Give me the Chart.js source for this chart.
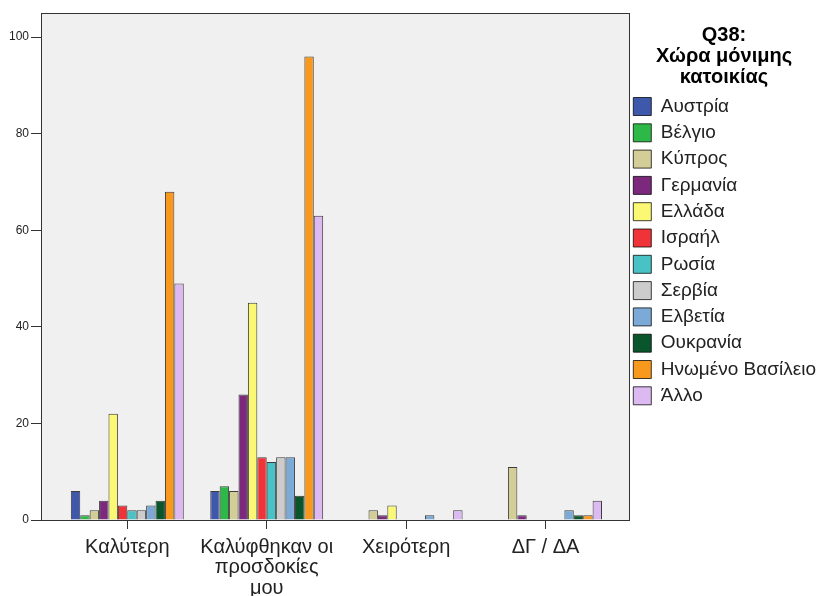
<!DOCTYPE html>
<html>
<head>
<meta charset="utf-8">
<script src="https://cdn.jsdelivr.net/npm/chart.js@4.4.1/dist/chart.umd.min.js"></script>
<style>
  html, body { margin: 0; padding: 0; background: #fff; }
  #wrap { width: 822px; height: 596px; }
</style>
</head>
<body>
<div id="wrap"><canvas id="chart"></canvas></div>
<script>
// --- DATA ---
const categories = ['Καλύτερη', ['Καλύφθηκαν οι', 'προσδοκίες', 'μου'], 'Χειρότερη', 'ΔΓ / ΔΑ'];
const countries = ['Αυστρία', 'Βέλγιο', 'Κύπρος', 'Γερμανία', 'Ελλάδα', 'Ισραήλ', 'Ρωσία', 'Σερβία', 'Ελβετία', 'Ουκρανία', 'Ηνωμένο Βασίλειο', 'Άλλο'];

const austria   = [6, 6, 0, 0];
const belgium   = [1, 7, 0, 0];
const cyprus    = [2, 6, 2, 11];
const germany   = [4, 26, 1, 1];
const greece    = [22, 45, 3, 0];
const israel    = [3, 13, 0, 0];
const russia    = [2, 12, 0, 0];
const serbia    = [2, 13, 0, 0];
const switzerland = [3, 13, 1, 2];
const ukraine   = [4, 5, 0, 1];
const uk        = [68, 96, 0, 1];
const other     = [49, 63, 2, 4];
const seriesValues = [austria, belgium, cyprus, germany, greece, israel, russia, serbia, switzerland, ukraine, uk, other];

const yTicks = [0, 20, 40, 60, 80, 100];

// SPSS default palette
const COLORS = ['#3E58AC', '#2EB848', '#D3CE97', '#7C287D', '#FBF873', '#EF3338',
                '#48C2C5', '#CCCCCC', '#7AAAD5', '#0A562C', '#F8981D', '#DDB9F1'];

const TEXT_COLOR = '#222';
const FRAME_EXTRA = 4; // frame runs a few px past the chart area on the right

Chart.defaults.font.family = '"Liberation Sans", Arial, sans-serif';
Chart.defaults.color = TEXT_COLOR;

// grey plot background + frame
const plotFrame = {
  id: 'plotFrame',
  beforeDraw(chart) {
    const { ctx, chartArea: a } = chart;
    ctx.save();
    ctx.fillStyle = '#F0F0F0';
    ctx.fillRect(a.left, a.top, a.right + FRAME_EXTRA - a.left, a.bottom - a.top);
    ctx.restore();
  },
  afterDraw(chart) {
    const { ctx, chartArea: a } = chart;
    ctx.save();
    ctx.strokeStyle = '#333';
    ctx.lineWidth = 1;
    ctx.strokeRect(a.left + 0.5, a.top + 0.5, a.right + FRAME_EXTRA - a.left - 1, a.bottom - a.top);
    ctx.restore();
  }
};

const datasets = countries.map((name, i) => ({
  label: name,
  data: seriesValues[i].map(v => (v === 0 ? null : v)),
  backgroundColor: COLORS[i],
  borderColor: 'rgba(0,0,0,0.75)',
  borderWidth: 1,
  barPercentage: 1,
  categoryPercentage: 0.81
}));

new Chart(document.getElementById('chart'), {
  type: 'bar',
  data: { labels: categories.map((_, i) => i), datasets },
  plugins: [plotFrame],
  options: {
    responsive: true,
    maintainAspectRatio: false,
    animation: false,
    layout: { padding: { top: 13, right: 0, bottom: 0, left: 0 } },
    plugins: {
      tooltip: { enabled: false },
      legend: {
        position: 'right',
        align: 'start',
        maxWidth: 196,
        title: {
          display: true,
          text: ['Q38:', 'Χώρα μόνιμης', 'κατοικίας'],
          color: '#000',
          font: { size: 20, weight: 'bold', lineHeight: 1.05 },
          padding: { top: 12, bottom: 43.7 }
        },
        labels: {
          boxWidth: 18,
          boxHeight: 18,
          padding: 7.3,
          color: TEXT_COLOR,
          font: { size: 19 }
        }
      }
    },
    scales: {
      x: {
        type: 'linear',
        min: -0.619,
        max: 3.577,
        offset: false,
        afterBuildTicks: s => { s.ticks = categories.map((_, i) => ({ value: i })); },
        afterFit: s => { s.height = 76; },
        ticks: {
          stepSize: 1,
          autoSkip: false,
          maxRotation: 0,
          padding: 8,
          color: TEXT_COLOR,
          font: { size: 20, lineHeight: 1.03 },
          callback: v => categories[v] ?? ''
        },
        grid: { display: true, offset: false, drawOnChartArea: false, drawTicks: true, tickLength: 9, color: '#333' },
        border: { display: true, color: '#333', width: 1 }
      },
      y: {
        min: 0,
        max: 105,
        afterBuildTicks: s => { s.ticks = yTicks.map(v => ({ value: v })); },
        afterFit: s => { s.width = 41; },
        ticks: { stepSize: 20, padding: 2, color: TEXT_COLOR, font: { size: 12 } },
        grid: { display: true, drawOnChartArea: false, drawTicks: true, tickLength: 10, color: '#333' },
        border: { display: true, color: '#333', width: 1 }
      }
    }
  }
});
</script>
</body>
</html>
